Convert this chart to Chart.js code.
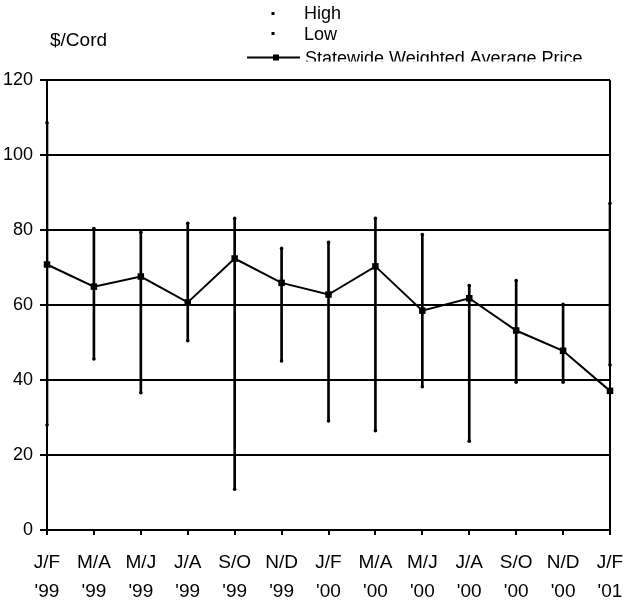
<!DOCTYPE html>
<html>
<head>
<meta charset="utf-8">
<script src="https://cdn.jsdelivr.net/npm/chart.js@4.4.0/dist/chart.umd.min.js"></script>
<style>
  html, body { margin: 0; padding: 0; background: #fff; }
  #wrap { width: 628px; height: 609px; }
</style>
</head>
<body>
<div id="wrap"><canvas id="priceChart" width="628" height="609"></canvas></div>
<script>
// bi-monthly periods
const periods = [
    ['J/F', "'99"], ['M/A', "'99"], ['M/J', "'99"], ['J/A', "'99"], ['S/O', "'99"], ['N/D', "'99"],
    ['J/F', "'00"], ['M/A', "'00"], ['M/J', "'00"], ['J/A', "'00"], ['S/O', "'00"], ['N/D', "'00"],
    ['J/F', "'01"]
];

// $/cord values
const highPrices = [108.6, 80.4, 79.4, 81.8, 83.1, 75.1, 76.7, 83.1, 78.8, 65.2, 66.5, 60.2, 87.1];
const lowPrices = [28.0, 45.6, 36.6, 50.5, 10.9, 45.1, 29.1, 26.5, 38.2, 23.7, 39.4, 39.4, 44.0];
const avgPrices = [70.8, 64.9, 67.6, 60.7, 72.4, 65.9, 62.8, 70.3, 58.5, 61.8, 53.2, 47.8, 37.1];

const yMin = 0;
const yMax = 120;
const yStep = 20;

const legendLabels = ['High', 'Low', 'Statewide Weighted Average Price'];
const unitLabel = '$/Cord';

const fontFamily = '"Liberation Sans", Arial, sans-serif';

// legend + unit label drawn on the canvas
const legendPlugin = {
    id: 'legendPlugin',
    afterDraw(chart) {
        const c = chart.ctx;
        c.save();
        c.fillStyle = '#000';
        c.strokeStyle = '#000';
        c.textBaseline = 'alphabetic';
        c.textAlign = 'left';

        c.font = '19px ' + fontFamily;
        c.fillText(unitLabel, 50, 46);

        c.font = '18px ' + fontFamily;
        c.beginPath();
        c.rect(0, 0, 628, 61.5);
        c.clip();

        // High / Low dots
        c.fillRect(271.5, 12, 3, 3);
        c.fillRect(271.5, 32, 3, 3);
        c.fillText(legendLabels[0], 304, 19);
        c.fillText(legendLabels[1], 304, 39.5);

        // average line marker
        c.lineWidth = 2;
        c.beginPath();
        c.moveTo(247, 57.5);
        c.lineTo(300, 57.5);
        c.stroke();
        c.fillRect(273, 54.5, 6, 6);
        c.fillText(legendLabels[2], 305, 63.5);
        c.restore();
    }
};

const ctx = document.getElementById('priceChart').getContext('2d');
new Chart(ctx, {
    type: 'bar',
    data: {
        labels: periods,
        datasets: [
            {
                label: 'Range',
                data: lowPrices.map((lo, i) => [lo, highPrices[i]]),
                backgroundColor: '#000',
                barThickness: 2,
                order: 3
            },
            {
                type: 'line',
                label: legendLabels[0],
                data: highPrices,
                showLine: false,
                pointRadius: 1.8,
                pointBackgroundColor: '#000',
                pointBorderWidth: 0,
                clip: false,
                order: 2
            },
            {
                type: 'line',
                label: legendLabels[1],
                data: lowPrices,
                showLine: false,
                pointRadius: 1.8,
                pointBackgroundColor: '#000',
                pointBorderWidth: 0,
                clip: false,
                order: 2
            },
            {
                type: 'line',
                label: legendLabels[2],
                data: avgPrices,
                borderColor: '#000',
                borderWidth: 2,
                tension: 0,
                pointStyle: 'rect',
                pointRadius: 4.6,
                pointBackgroundColor: '#000',
                pointBorderWidth: 0,
                clip: false,
                order: 1
            }
        ]
    },
    options: {
        responsive: false,
        animation: false,
        layout: { padding: { top: 80, right: 18, left: 0, bottom: 0 } },
        plugins: {
            legend: { display: false },
            tooltip: { enabled: false }
        },
        scales: {
            x: {
                offset: false,
                afterFit(scale) {
                    scale.height = 79;
                    scale.paddingLeft = 0;
                    scale.paddingRight = 0;
                },
                grid: {
                    offset: false,
                    lineWidth: 2,
                    color: (c) => c.index === periods.length - 1 ? '#000' : 'rgba(0,0,0,0)',
                    tickColor: '#000',
                    tickLength: 5
                },
                border: { display: true, color: '#000', width: 2 },
                ticks: {
                    color: '#000',
                    padding: 13,
                    maxRotation: 0,
                    autoSkip: false,
                    font: { family: fontFamily, size: 19, lineHeight: 1.53 }
                }
            },
            y: {
                min: yMin,
                max: yMax,
                afterFit(scale) { scale.width = 47; },
                grid: {
                    lineWidth: 2,
                    color: '#000',
                    tickColor: '#000',
                    tickLength: 7
                },
                border: { display: true, color: '#000', width: 2 },
                ticks: {
                    stepSize: yStep,
                    color: '#000',
                    padding: 7,
                    font: { family: fontFamily, size: 18 }
                }
            }
        }
    },
    plugins: [legendPlugin]
});
</script>
</body>
</html>
